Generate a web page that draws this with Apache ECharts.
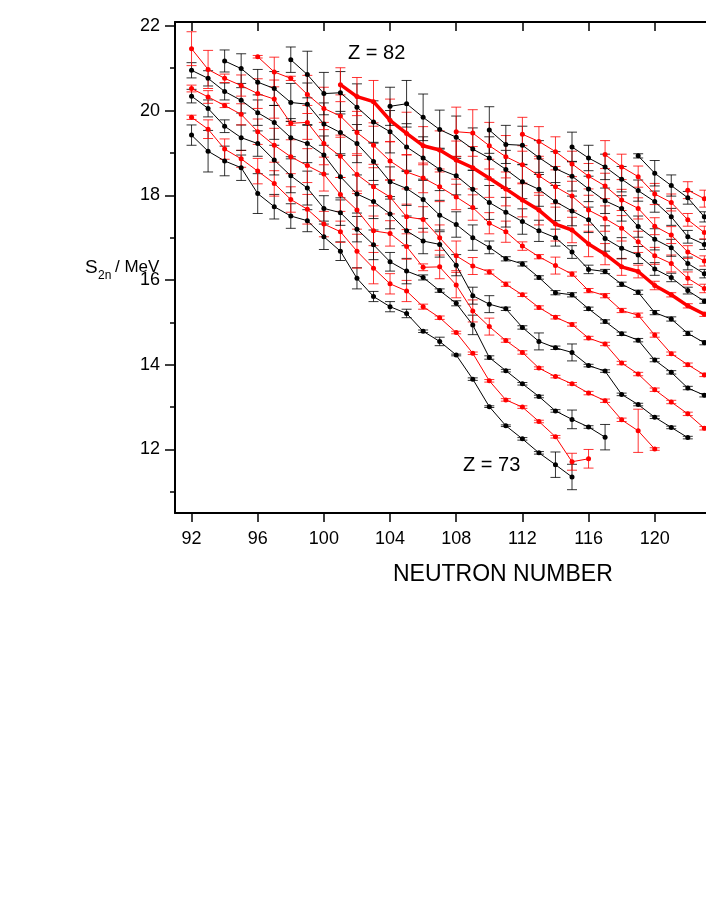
<!DOCTYPE html>
<html><head><meta charset="utf-8">
<script src="https://cdn.jsdelivr.net/npm/echarts@6/dist/echarts.min.js"></script>
<style>html,body{margin:0;padding:0;background:#fff;overflow:hidden}#c{width:706px;height:913px}</style>
</head><body><div id="c"></div><script>
// Neutron-number tick labels and S2n tick labels
const xTicks = [92, 96, 100, 104, 108, 112, 116, 120];
const yLabels = [12, 14, 16, 18, 20, 22];
const yMinorTicks = [11, 13, 15, 17, 19, 21];

// S2n (MeV) per proton number Z; first neutron number given by n0
const n73 = 92;
const s73 = [19.42, 19.04, 18.81, 18.65, 18.04, 17.73, 17.51, 17.40, 17.02, 16.68, 16.04, 15.61, 15.37, 15.21, 14.79, 14.55, 14.23, 13.66, 13.01, 12.56, 12.25, 11.92, 11.64, 11.35];
const e73 = [0.24, 0.49, 0.35, 0.30, 0.47, 0.29, 0.29, 0.26, 0.30, 0.22, 0.25, 0.12, 0.12, 0.10, 0.03, 0.10, 0.02, 0.03, 0.02, 0.02, 0.03, 0.03, 0.30, 0.30];
const n74 = 92;
const s74 = [19.84, 19.56, 19.09, 18.86, 18.57, 18.28, 17.90, 17.67, 17.32, 17.14, 16.68, 16.28, 15.91, 15.74, 15.37, 15.11, 14.76, 14.27, 13.62, 13.17, 13.00, 12.66, 12.30, 11.71, 11.78];
const e74 = [0.05, 0.22, 0.24, 0.20, 0.30, 0.30, 0.30, 0.35, 0.30, 0.25, 0.40, 0.37, 0.24, 0.25, 0.06, 0.04, 0.03, 0.03, 0.03, 0.03, 0.03, 0.03, 0.03, 0.20, 0.22];
const n75 = 92;
const s75 = [20.34, 20.05, 19.63, 19.36, 19.22, 18.83, 18.46, 18.17, 17.69, 17.59, 17.20, 16.83, 16.43, 16.21, 16.06, 15.75, 15.45, 14.94, 14.17, 13.86, 13.55, 13.25, 12.91, 12.71, 12.53, 12.29];
const e75 = [0.16, 0.20, 0.15, 0.30, 0.30, 0.35, 0.40, 0.40, 0.30, 0.30, 0.30, 0.35, 0.22, 0.30, 0.06, 0.04, 0.06, 0.23, 0.04, 0.03, 0.03, 0.03, 0.03, 0.22, 0.03, 0.30];
const n76 = 92;
const s76 = [20.52, 20.32, 20.12, 19.91, 19.50, 19.18, 18.91, 18.70, 18.50, 18.02, 17.65, 17.16, 17.10, 16.79, 16.30, 16.31, 15.88, 15.27, 14.90, 14.57, 14.29, 13.92, 13.72, 13.55, 13.33, 13.15, 12.70, 12.44, 12.01];
const e76 = [0.08, 0.15, 0.05, 0.25, 0.30, 0.40, 0.40, 0.40, 0.40, 0.40, 0.45, 0.35, 0.30, 0.30, 0.08, 0.28, 0.30, 0.26, 0.20, 0.04, 0.04, 0.03, 0.03, 0.03, 0.04, 0.04, 0.04, 0.51, 0.03];
const n77 = 92;
const s77 = [20.95, 20.76, 20.45, 20.24, 19.95, 19.72, 19.36, 19.22, 18.95, 18.44, 18.03, 17.85, 17.56, 17.16, 16.92, 16.84, 16.35, 15.63, 15.43, 15.32, 14.88, 14.55, 14.40, 14.29, 13.98, 13.85, 13.30, 13.06, 12.76, 12.52, 12.28];
const e77 = [0.18, 0.18, 0.20, 0.30, 0.30, 0.40, 0.45, 0.45, 0.45, 0.50, 0.45, 0.40, 0.35, 0.35, 0.30, 0.30, 0.25, 0.20, 0.20, 0.04, 0.04, 0.20, 0.04, 0.20, 0.03, 0.03, 0.03, 0.03, 0.03, 0.03, 0.03];
const n78 = 92;
const s78 = [21.46, 20.97, 20.76, 20.59, 20.40, 20.27, 19.70, 19.72, 19.22, 18.92, 18.49, 18.20, 17.96, 17.49, 17.43, 17.00, 16.57, 16.33, 16.19, 15.90, 15.65, 15.35, 15.12, 14.95, 14.63, 14.49, 14.04, 13.78, 13.41, 13.12, 12.84, 12.50];
const e78 = [0.40, 0.45, 0.10, 0.25, 0.35, 0.45, 0.05, 0.40, 0.50, 0.50, 0.45, 0.45, 0.40, 0.30, 0.30, 0.30, 0.35, 0.20, 0.05, 0.05, 0.04, 0.04, 0.04, 0.04, 0.04, 0.04, 0.04, 0.04, 0.04, 0.04, 0.04, 0.04];
const n79 = 94;
const s79 = [21.17, 20.99, 20.67, 20.52, 20.19, 20.15, 19.68, 19.48, 19.22, 18.80, 18.32, 18.16, 17.90, 17.53, 17.31, 17.00, 16.77, 16.50, 16.38, 16.06, 15.70, 15.65, 15.32, 15.02, 14.73, 14.58, 14.11, 13.82, 13.45, 13.28];
const e79 = [0.26, 0.35, 0.30, 0.40, 0.45, 0.50, 0.50, 0.50, 0.45, 0.45, 0.35, 0.40, 0.45, 0.35, 0.30, 0.30, 0.15, 0.05, 0.05, 0.04, 0.05, 0.05, 0.04, 0.04, 0.04, 0.04, 0.04, 0.04, 0.04, 0.04];
const n80 = 96;
const s80 = [21.27, 20.91, 20.76, 20.38, 20.05, 19.87, 19.48, 19.18, 18.81, 18.55, 18.41, 18.20, 17.96, 17.71, 17.34, 17.14, 16.80, 16.55, 16.34, 16.14, 15.75, 15.63, 15.28, 15.17, 14.70, 14.26, 14.00, 13.76];
const e80 = [0.03, 0.35, 0.05, 0.45, 0.50, 0.50, 0.50, 0.45, 0.45, 0.40, 0.35, 0.35, 0.30, 0.30, 0.25, 0.25, 0.10, 0.05, 0.20, 0.05, 0.05, 0.05, 0.05, 0.05, 0.05, 0.04, 0.04, 0.04];
const n81 = 98;
const s81 = [21.20, 20.85, 20.40, 20.42, 20.08, 19.73, 19.50, 19.14, 18.88, 18.61, 18.46, 18.14, 17.83, 17.60, 17.38, 17.16, 17.00, 16.66, 16.25, 16.20, 15.90, 15.71, 15.23, 15.08, 14.74, 14.52];
const e81 = [0.30, 0.55, 0.50, 0.50, 0.55, 0.50, 0.50, 0.55, 0.50, 0.50, 0.45, 0.45, 0.40, 0.35, 0.30, 0.25, 0.20, 0.15, 0.10, 0.05, 0.05, 0.05, 0.05, 0.05, 0.05, 0.05];
const n82 = 101;
const s82 = [20.61, 20.33, 20.21, 19.77, 19.46, 19.17, 19.07, 18.83, 18.65, 18.40, 18.15, 17.89, 17.65, 17.32, 17.18, 16.85, 16.61, 16.31, 16.20, 15.87, 15.65, 15.39, 15.19];
const e82 = [0.40, 0.45, 0.50, 0.50, 0.50, 0.45, 0.45, 0.45, 0.50, 0.45, 0.40, 0.40, 0.35, 0.40, 0.30, 0.30, 0.25, 0.20, 0.15, 0.10, 0.05, 0.05, 0.05];
const n83 = 104;
const s83 = [20.10, 20.16, 19.84, 19.55, 19.37, 19.09, 18.88, 18.61, 18.32, 18.14, 17.85, 17.63, 17.42, 16.98, 16.75, 16.59, 16.26, 16.06, 15.75, 15.50];
const e83 = [0.45, 0.55, 0.55, 0.46, 0.50, 0.50, 0.50, 0.45, 0.40, 0.40, 0.45, 0.35, 0.30, 0.30, 0.25, 0.20, 0.15, 0.10, 0.08, 0.05];
const n84 = 108;
const s84 = [19.50, 19.47, 19.17, 18.91, 18.72, 18.46, 18.20, 17.98, 17.65, 17.45, 17.22, 16.90, 16.57, 16.39, 16.04, 15.80];
const e84 = [0.58, 0.55, 0.55, 0.50, 0.45, 0.40, 0.40, 0.35, 0.35, 0.30, 0.30, 0.25, 0.20, 0.20, 0.15, 0.10];
const n85 = 110;
const s85 = [19.54, 19.20, 19.18, 18.89, 18.63, 18.45, 18.15, 17.87, 17.69, 17.26, 16.96, 16.76, 16.39, 16.15];
const e85 = [0.55, 0.45, 0.45, 0.40, 0.40, 0.35, 0.30, 0.30, 0.30, 0.25, 0.25, 0.20, 0.15, 0.10];
const n86 = 112;
const s86 = [19.44, 19.27, 19.03, 18.74, 18.45, 18.22, 17.89, 17.69, 17.27, 17.06, 16.66, 16.45];
const e86 = [0.40, 0.35, 0.35, 0.30, 0.30, 0.30, 0.25, 0.25, 0.20, 0.20, 0.15, 0.12];
const n87 = 115;
const s87 = [19.14, 18.88, 18.67, 18.38, 18.11, 17.85, 17.49, 17.02, 16.84];
const e87 = [0.35, 0.30, 0.30, 0.30, 0.25, 0.25, 0.20, 0.15, 0.12];
const n88 = 117;
const s88 = [18.96, 18.67, 18.44, 18.03, 17.83, 17.42, 17.12];
const e88 = [0.33, 0.30, 0.25, 0.25, 0.20, 0.15, 0.15];
const n89 = 119;
const s89 = [18.93, 18.52, 18.23, 17.94, 17.49];
const e89 = [0.05, 0.30, 0.25, 0.15, 0.12];
const n90 = 122;
const s90 = [18.12, 17.92];
const e90 = [0.20, 0.20];

const chains = [
  [73, n73, s73, e73], [74, n74, s74, e74], [75, n75, s75, e75], [76, n76, s76, e76],
  [77, n77, s77, e77], [78, n78, s78, e78], [79, n79, s79, e79], [80, n80, s80, e80],
  [81, n81, s81, e81], [82, n82, s82, e82], [83, n83, s83, e83], [84, n84, s84, e84],
  [85, n85, s85, e85], [86, n86, s86, e86], [87, n87, s87, e87], [88, n88, s88, e88],
  [89, n89, s89, e89], [90, n90, s90, e90]
];

const FONT = '"Liberation Sans", Arial, Helvetica, sans-serif';
const RED = '#ff0000', BLACK = '#000000';

const series = [];
chains.forEach(function (c) {
  const z = c[0], n0 = c[1], vals = c[2], errs = c[3];
  const col = (z % 2 === 1) ? BLACK : RED;
  const data = vals.map(function (v, i) { return [n0 + i, v, errs[i]]; });
  series.push({
    type: 'custom', name: 'err' + z, clip: true, z: 2,
    encode: { x: 0, y: 1 },
    data: data,
    renderItem: function (params, api) {
      const x = api.value(0), y = api.value(1), e = api.value(2);
      const p = api.coord([x, y]);
      const hi = api.coord([x, y + e]);
      const lo = api.coord([x, y - e]);
      const w = 5;
      const st = { stroke: col, lineWidth: 1, opacity: 0.8 };
      return { type: 'group', children: [
        { type: 'line', shape: { x1: p[0], y1: hi[1], x2: p[0], y2: lo[1] }, style: st },
        { type: 'line', shape: { x1: p[0] - w, y1: hi[1], x2: p[0] + w, y2: hi[1] }, style: st },
        { type: 'line', shape: { x1: p[0] - w, y1: lo[1], x2: p[0] + w, y2: lo[1] }, style: st }
      ]};
    }
  });
  series.push({
    type: 'line', name: 'Z=' + z, z: 3,
    data: data.map(function (d) { return [d[0], d[1]]; }),
    symbol: 'circle', symbolSize: 5,
    showSymbol: true,
    lineStyle: { color: col, width: z === 82 ? 3.5 : 1 },
    itemStyle: { color: col },
    emphasis: { disabled: true },
    clip: true
  });
});

const axisLineStyle = { color: '#000', width: 2 };
const chart = echarts.init(document.getElementById('c'), null, { renderer: 'canvas' });
chart.setOption({
  animation: false,
  backgroundColor: '#fff',
  grid: { left: 175, top: 22, right: 0, bottom: 400, containLabel: false },
  xAxis: [
    { type: 'value', min: 91, max: 123.1, position: 'bottom',
      axisLine: { show: true, onZero: false, lineStyle: axisLineStyle },
      axisTick: { show: true, inside: false, length: 9, customValues: xTicks, lineStyle: { color: '#000', width: 1.5 } },
      axisLabel: { show: true, customValues: xTicks, margin: 17, fontSize: 18, color: '#000', fontFamily: FONT },
      splitLine: { show: false } },
    { type: 'value', min: 91, max: 123.1, position: 'top',
      axisLine: { show: true, onZero: false, lineStyle: axisLineStyle },
      axisTick: { show: true, inside: true, length: 9, customValues: xTicks, lineStyle: { color: '#000', width: 1.5 } },
      axisLabel: { show: false },
      splitLine: { show: false } }
  ],
  yAxis: [
    { type: 'value', min: 10.5, max: 22.09, position: 'left',
      axisLine: { show: true, onZero: false, lineStyle: axisLineStyle },
      axisTick: { show: true, inside: false, length: 10, customValues: yLabels, lineStyle: { color: '#000', width: 1.5 } },
      axisLabel: { show: true, customValues: yLabels, margin: 15, fontSize: 18, color: '#000', fontFamily: FONT },
      splitLine: { show: false } },
    { type: 'value', min: 10.5, max: 22.09, position: 'left', offset: 0,
      axisLine: { show: false },
      axisTick: { show: true, inside: false, length: 5, customValues: yMinorTicks, lineStyle: { color: '#000', width: 1.5 } },
      axisLabel: { show: false },
      splitLine: { show: false } }
  ],
  graphic: [
    { type: 'text', left: 393, top: 563, style: { text: 'NEUTRON NUMBER', font: '23px ' + FONT, fill: '#000' } },
    { type: 'text', left: 85, top: 258, style: { text: 'S', font: '19px ' + FONT, fill: '#000' } },
    { type: 'text', left: 98, top: 270, style: { text: '2n', font: '12px ' + FONT, fill: '#000' } },
    { type: 'text', left: 115, top: 259, style: { text: '/ MeV', font: '17px ' + FONT, fill: '#000' } },
    { type: 'text', left: 348, top: 43, style: { text: 'Z = 82', font: '20px ' + FONT, fill: '#000' } },
    { type: 'text', left: 463, top: 455, style: { text: 'Z = 73', font: '20px ' + FONT, fill: '#000' } }
  ],
  series: series
});
</script></body></html>
